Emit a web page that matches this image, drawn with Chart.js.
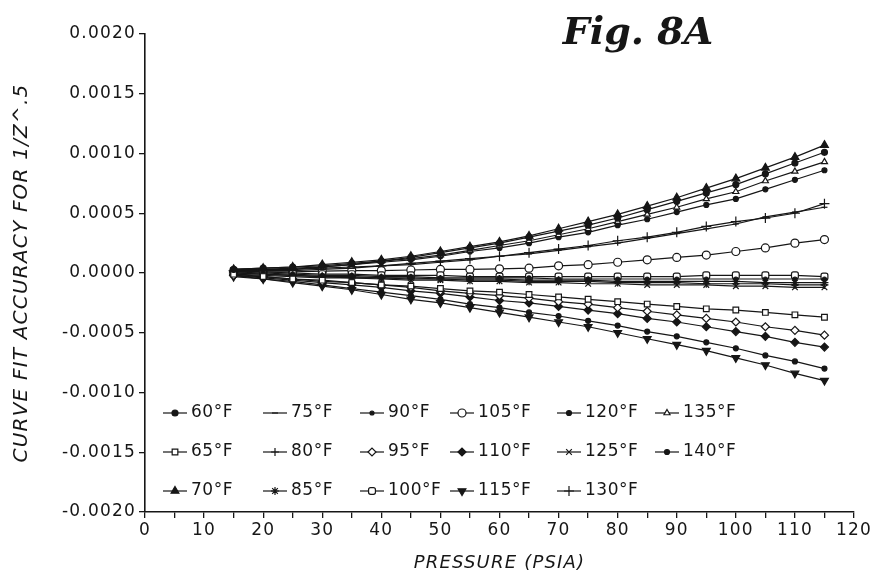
<!DOCTYPE html>
<html><head><meta charset="utf-8">
<script src="https://cdn.jsdelivr.net/npm/chart.js@4.4.1/dist/chart.umd.min.js"></script>
<style>html,body{margin:0;padding:0;background:#fff}#wrap{width:880px;height:582px;position:relative}</style>
</head><body><div id="wrap"><canvas id="c"></canvas></div>
<script>
const pressures = [15,20,25,30,35,40,45,50,55,60,65,70,75,80,85,90,95,100,105,110,115];
const temps = ['60°F','65°F','70°F','75°F','80°F','85°F','90°F','95°F','100°F','105°F','110°F','115°F','120°F','125°F','130°F','135°F','140°F'];
const xTickValues = [0,5,10,15,20,25,30,35,40,45,50,55,60,65,70,75,80,85,90,95,100,105,110,115,120];
const xTickLabels = ['0','','10','','20','','30','','40','','50','','60','','70','','80','','90','','100','','110','','120'];
const yTickValues = [-0.002,-0.0015,-0.001,-0.0005,0,0.0005,0.001,0.0015,0.002];
const yTickLabels = ['-0.0020','-0.0015','-0.0010','-0.0005','0.0000','0.0005','0.0010','0.0015','0.0020'];

const s60 = [0.00003,0.00004,0.00005,0.00006,0.00008,0.00010,0.00013,0.00017,0.00021,0.00025,0.00030,0.00035,0.00040,0.00046,0.00053,0.00060,0.00067,0.00074,0.00083,0.00092,0.00101];
const s65 = [-0.00001,-0.00003,-0.00005,-0.00006,-0.00008,-0.00010,-0.00011,-0.00013,-0.00015,-0.00016,-0.00018,-0.00020,-0.00022,-0.00024,-0.00026,-0.00028,-0.00030,-0.00031,-0.00033,-0.00035,-0.00037];
const s70 = [0.00003,0.00004,0.00005,0.00007,0.00009,0.00011,0.00014,0.00018,0.00022,0.00026,0.00031,0.00037,0.00043,0.00049,0.00056,0.00063,0.00071,0.00079,0.00088,0.00097,0.00107];
const s75 = [0.00001,0.00002,0.00002,0.00003,0.00004,0.00006,0.00007,0.00009,0.00011,0.00014,0.00016,0.00019,0.00022,0.00025,0.00029,0.00033,0.00037,0.00041,0.00047,0.00051,0.00055];
const s80 = [0,-0.00001,-0.00002,-0.00003,-0.00004,-0.00004,-0.00005,-0.00005,-0.00006,-0.00006,-0.00007,-0.00007,-0.00007,-0.00008,-0.00008,-0.00008,-0.00009,-0.00009,-0.00009,-0.00010,-0.00010];
const s85 = [0,-0.00001,-0.00002,-0.00003,-0.00003,-0.00004,-0.00004,-0.00005,-0.00005,-0.00005,-0.00006,-0.00006,-0.00006,-0.00007,-0.00007,-0.00007,-0.00007,-0.00007,-0.00008,-0.00008,-0.00008];
const s90 = [0.00001,0,-0.00001,-0.00002,-0.00002,-0.00003,-0.00003,-0.00004,-0.00004,-0.00004,-0.00004,-0.00005,-0.00005,-0.00005,-0.00005,-0.00005,-0.00005,-0.00005,-0.00005,-0.00005,-0.00005];
const s95 = [-0.00002,-0.00003,-0.00005,-0.00007,-0.00008,-0.00010,-0.00012,-0.00015,-0.00017,-0.00019,-0.00021,-0.00024,-0.00026,-0.00029,-0.00032,-0.00035,-0.00038,-0.00041,-0.00045,-0.00048,-0.00052];
const s100 = [0.00002,0.00001,0,-0.00001,-0.00001,-0.00002,-0.00002,-0.00002,-0.00003,-0.00003,-0.00003,-0.00003,-0.00003,-0.00003,-0.00003,-0.00003,-0.00002,-0.00002,-0.00002,-0.00002,-0.00003];
const s105 = [0.00001,0.00001,0.00001,0.000015,0.00002,0.00002,0.000025,0.00003,0.00003,0.000035,0.00004,0.00006,0.00007,0.00009,0.00011,0.00013,0.00015,0.00018,0.00021,0.00025,0.00028];
const s110 = [-0.00002,-0.00004,-0.00006,-0.00008,-0.00010,-0.00012,-0.00015,-0.00017,-0.00020,-0.00023,-0.00025,-0.00028,-0.00031,-0.00034,-0.00038,-0.00041,-0.00045,-0.00049,-0.00053,-0.00058,-0.00062];
const s115 = [-0.00003,-0.00005,-0.00008,-0.00011,-0.00014,-0.00018,-0.00022,-0.00025,-0.00029,-0.00033,-0.00037,-0.00041,-0.00045,-0.00050,-0.00055,-0.00060,-0.00065,-0.00071,-0.00077,-0.00084,-0.00090];
const s120 = [-0.00002,-0.00005,-0.00007,-0.00010,-0.00013,-0.00016,-0.00019,-0.00022,-0.00026,-0.00029,-0.00033,-0.00036,-0.00040,-0.00044,-0.00049,-0.00053,-0.00058,-0.00063,-0.00069,-0.00074,-0.00080];
const s125 = [-0.00001,-0.00002,-0.00003,-0.00004,-0.00004,-0.00005,-0.00006,-0.00006,-0.00007,-0.00007,-0.00008,-0.00008,-0.00009,-0.00009,-0.00010,-0.00010,-0.00010,-0.00011,-0.00011,-0.00012,-0.00012];
const s130 = [0.00002,0.00002,0.00003,0.00004,0.00005,0.00006,0.00008,0.00010,0.00012,0.00014,0.00017,0.00020,0.00023,0.00027,0.00030,0.00034,0.00039,0.00043,0.00046,0.00050,0.00058];
const s135 = [0.00003,0.00003,0.00004,0.00005,0.00007,0.00010,0.00012,0.00015,0.00019,0.00023,0.00027,0.00032,0.00037,0.00043,0.00049,0.00055,0.00062,0.00068,0.00077,0.00085,0.00093];
const s140 = [0.00002,0.00003,0.00003,0.00005,0.00007,0.00009,0.00011,0.00014,0.00018,0.00021,0.00025,0.00030,0.00034,0.00040,0.00045,0.00051,0.00057,0.00062,0.00070,0.00078,0.00086];

const seriesList = [s60,s65,s70,s75,s80,s85,s90,s95,s100,s105,s110,s115,s120,s125,s130,s135,s140];

const INK = '#161616';
const markerStyles = [
  {pointStyle:'circle', radius:3, fill:true},
  {pointStyle:'rect', radius:4, fill:false},
  {pointStyle:'triangle', radius:4.5, fill:true},
  {pointStyle:'line', radius:3, fill:true},
  {pointStyle:'cross', radius:4, fill:true},
  {pointStyle:'star', radius:4, fill:true},
  {pointStyle:'circle', radius:2, fill:true},
  {pointStyle:'rectRot', radius:4, fill:false},
  {pointStyle:'rectRounded', radius:4, fill:false},
  {pointStyle:'circle', radius:4, fill:false},
  {pointStyle:'rectRot', radius:4, fill:true},
  {pointStyle:'triangle', radius:4.5, fill:true, rotation:180},
  {pointStyle:'circle', radius:2.5, fill:true},
  {pointStyle:'crossRot', radius:4, fill:true},
  {pointStyle:'cross', radius:5, fill:true},
  {pointStyle:'triangle', radius:3.5, fill:false},
  {pointStyle:'circle', radius:2.5, fill:true}
];

const datasets = temps.map((t, i) => {
  const m = markerStyles[i];
  return {
    label: t,
    data: pressures.map((p, j) => ({x: p, y: seriesList[i][j]})),
    borderColor: INK,
    borderWidth: 1.2,
    pointStyle: m.pointStyle,
    pointRadius: m.radius,
    pointRotation: m.rotation || 0,
    pointBackgroundColor: m.fill ? INK : '#ffffff',
    pointBorderColor: INK,
    pointBorderWidth: 1.2,
    tension: 0,
    fill: false
  };
});

const legendColX = [163, 263, 360, 450, 557, 655];
const legendRowY = [413, 452, 491];

const spacingPlugin = {
  id: 'spacing',
  beforeDraw(chart) {
    const ctx = chart.ctx;
    ctx.fillStyle = '#ffffff';
    ctx.fillRect(0, 0, chart.width, chart.height);
    ctx.letterSpacing = '1.2px';
  }
};

const customLegend = {
  id: 'customLegend',
  afterDraw(chart) {
    const ctx = chart.ctx;
    ctx.save();
    ctx.letterSpacing = '0.5px';
    chart.data.datasets.forEach((ds, i) => {
      const col = Math.floor(i / 3), row = i % 3;
      const x0 = legendColX[col], y0 = legendRowY[row];
      ctx.strokeStyle = INK;
      ctx.lineWidth = 1.2;
      ctx.beginPath();
      ctx.moveTo(x0, y0);
      ctx.lineTo(x0 + 24, y0);
      ctx.stroke();
      ctx.fillStyle = ds.pointBackgroundColor;
      ctx.strokeStyle = INK;
      Chart.helpers.drawPoint(ctx, {pointStyle: ds.pointStyle, radius: ds.pointRadius, rotation: ds.pointRotation, borderWidth: 1.2}, x0 + 12, y0);
      ctx.fillStyle = INK;
      ctx.font = '17px "DejaVu Sans"';
      ctx.textAlign = 'left';
      ctx.textBaseline = 'middle';
      ctx.fillText(ds.label, x0 + 28, y0);
    });
    ctx.letterSpacing = '0px';
    ctx.font = 'italic bold 38px "DejaVu Serif"';
    ctx.textAlign = 'center';
    ctx.textBaseline = 'alphabetic';
    ctx.fillStyle = INK;
    ctx.fillText('Fig. 8A', 638, 44);
    ctx.restore();
  }
};

new Chart(document.getElementById('c'), {
  type: 'line',
  data: { datasets },
  options: {
    responsive: true,
    maintainAspectRatio: false,
    animation: false,
    layout: { padding: { top: 34, right: 26, bottom: 0, left: 0 } },
    plugins: { legend: { display: false }, tooltip: { enabled: false } },
    scales: {
      x: {
        type: 'linear', min: 0, max: 120,
        afterBuildTicks(scale) { scale.ticks = xTickValues.map(v => ({value: v})); },
        afterFit(scale) { scale.height = 70; },
        ticks: {
          color: INK, font: { family: 'DejaVu Sans', size: 17 }, padding: 2, maxRotation: 0, autoSkip: false,
          callback(v, idx) { return xTickLabels[idx]; }
        },
        grid: { drawOnChartArea: false, tickLength: 6, color: INK, lineWidth: 1.3 },
        border: { display: true, color: INK, width: 1.6 },
        title: { display: true, text: 'PRESSURE (PSIA)', color: INK, font: { family: 'DejaVu Sans', size: 18, style: 'italic' }, padding: { top: 0, bottom: 8 } }
      },
      y: {
        type: 'linear', min: -0.002, max: 0.002,
        afterBuildTicks(scale) { scale.ticks = yTickValues.map(v => ({value: v})); },
        afterFit(scale) { scale.width = 145; },
        ticks: {
          color: INK, font: { family: 'DejaVu Sans', size: 17 }, padding: 3, autoSkip: false,
          callback(v, idx) { return yTickLabels[idx]; }
        },
        grid: { drawOnChartArea: false, tickLength: 6, color: INK, lineWidth: 1.3 },
        border: { display: true, color: INK, width: 1.6 },
        title: { display: true, text: 'CURVE FIT ACCURACY FOR 1/Z^.5', align: 'center', color: INK, font: { family: 'DejaVu Sans', size: 20, style: 'italic' }, padding: { top: 10, bottom: 0 } }
      }
    }
  },
  plugins: [spacingPlugin, customLegend]
});
</script>
</body></html>
